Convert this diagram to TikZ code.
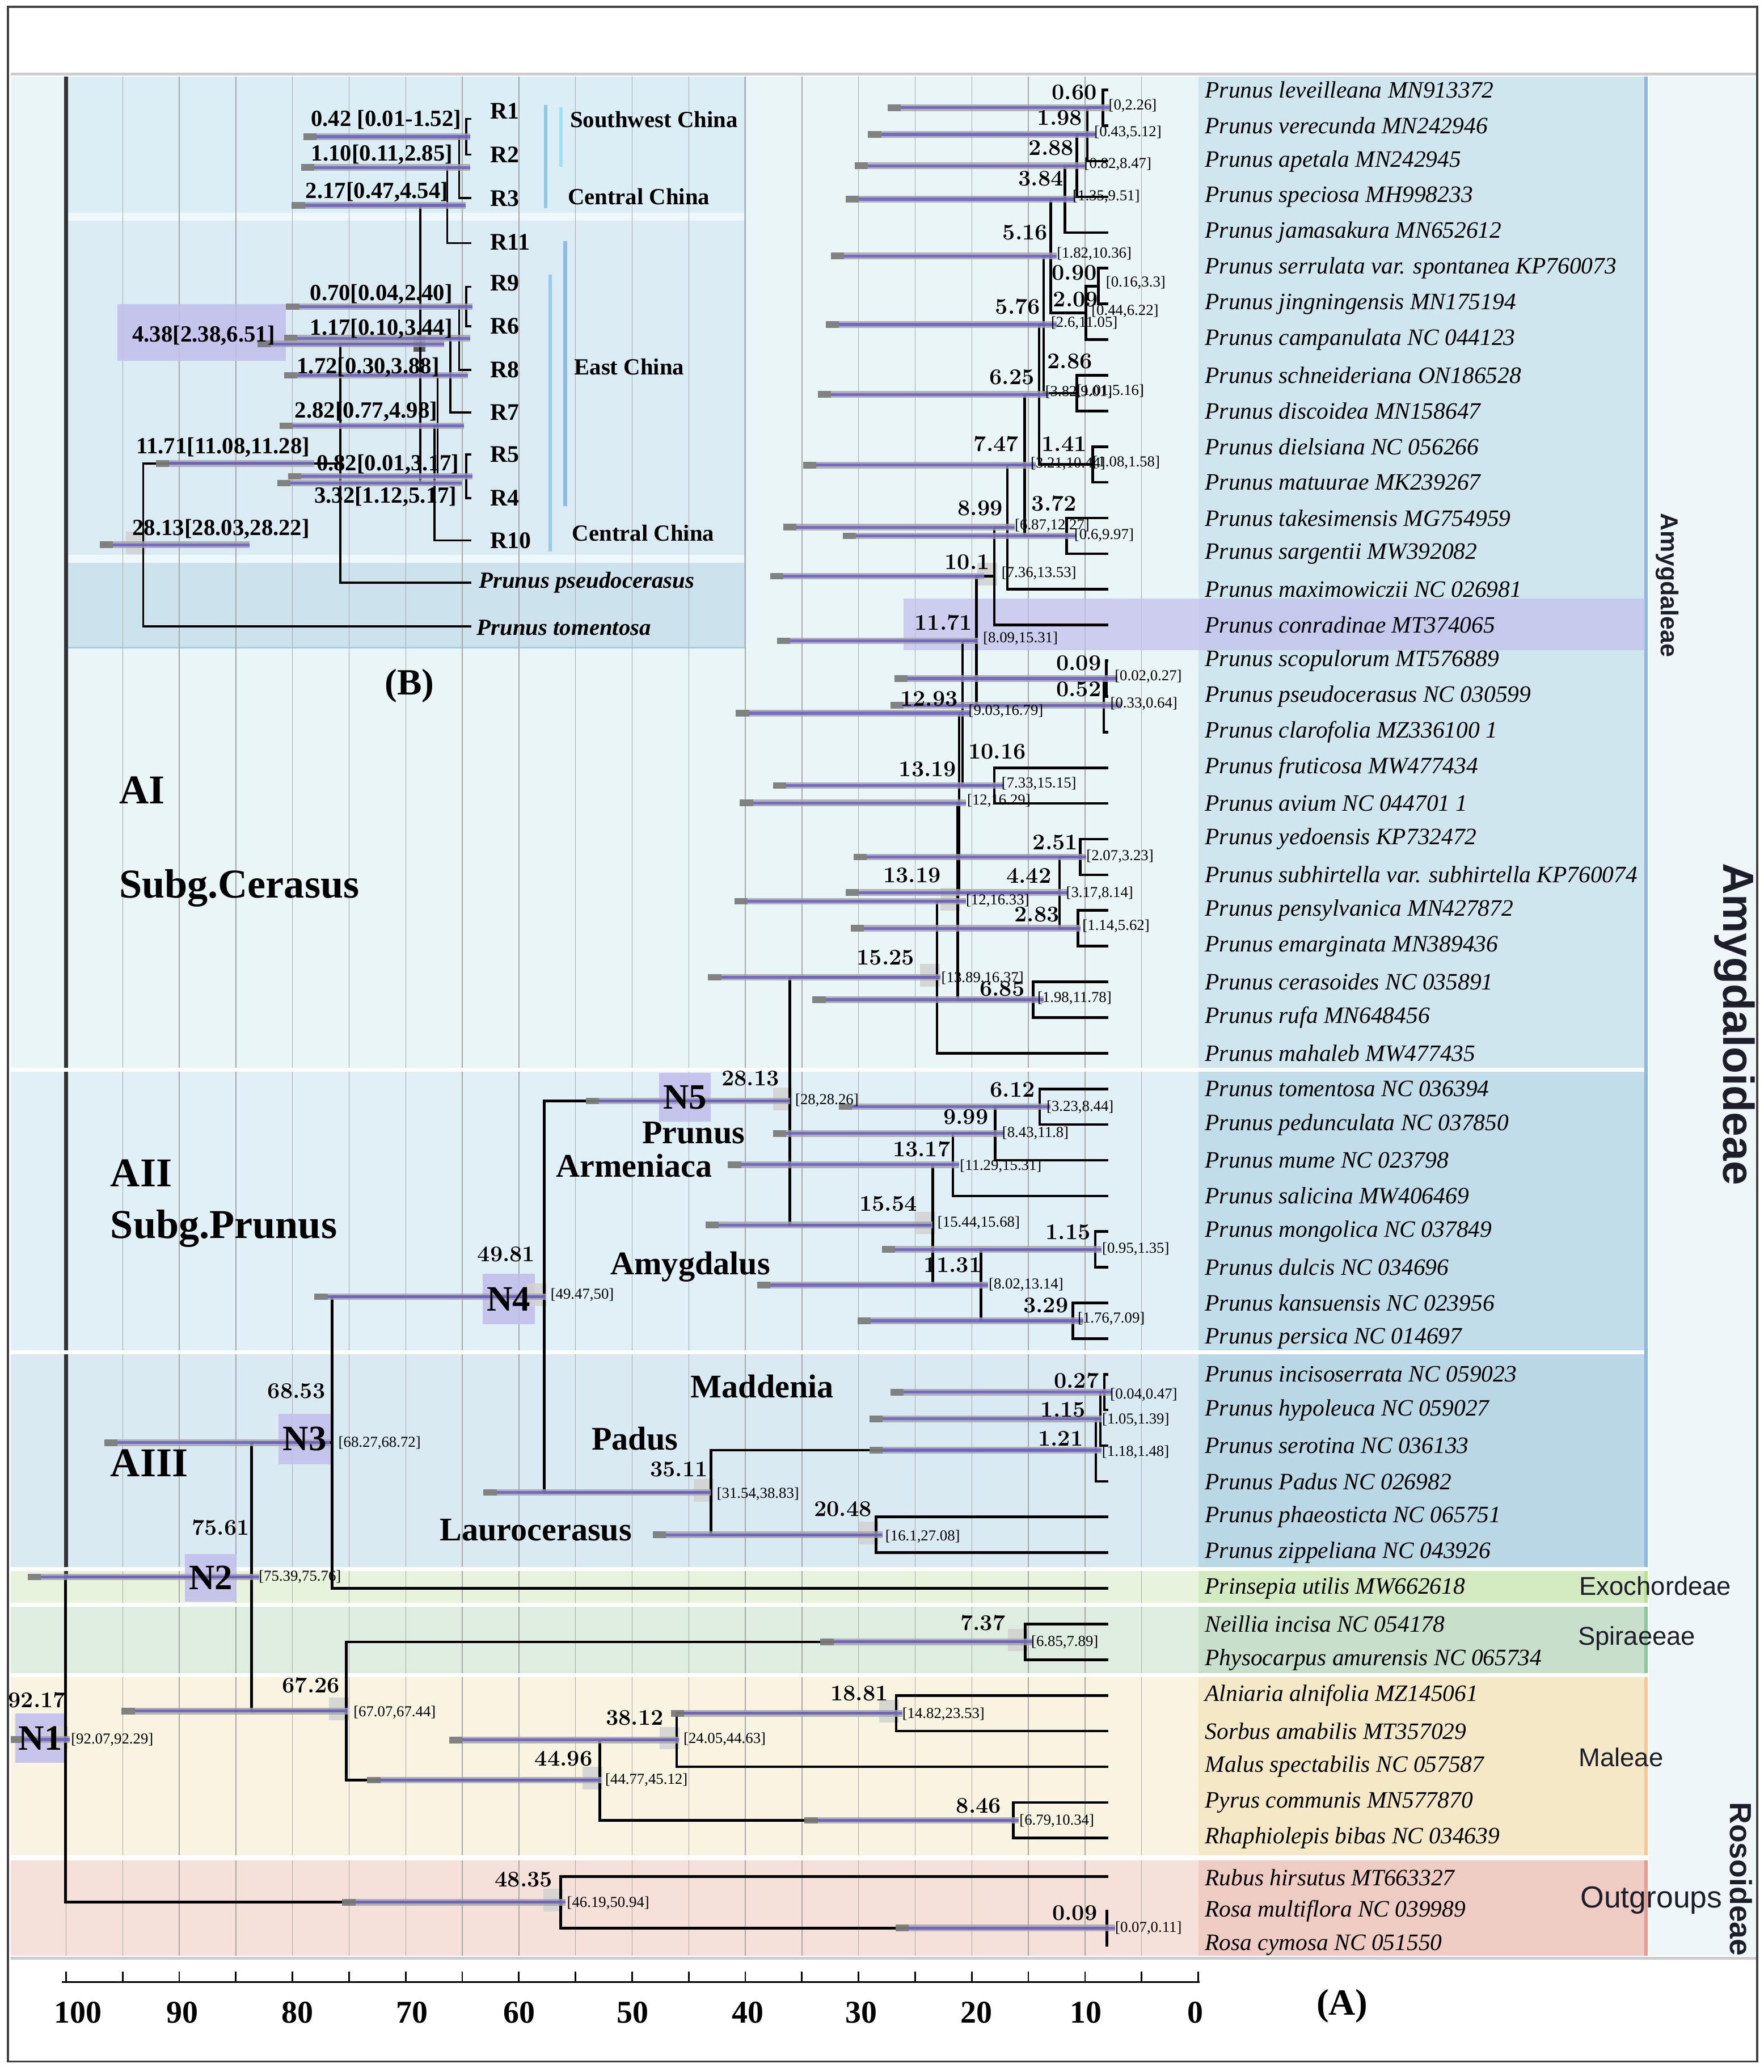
\documentclass[tikz,border=0pt]{standalone}
\usepackage{fontspec}
\newfontfamily\tms{Liberation Serif}
\newfontfamily\ars{Liberation Sans}
\definecolor{bgAI}{HTML}{EAF5F8}
\definecolor{spAI}{HTML}{CFE6EF}
\definecolor{bgAII}{HTML}{E1EFF6}
\definecolor{spAII}{HTML}{C2DDEA}
\definecolor{bgAIII}{HTML}{D9EAF2}
\definecolor{spAIII}{HTML}{BAD7E6}
\definecolor{bgExo}{HTML}{E8F3DE}
\definecolor{spExo}{HTML}{D3E9BF}
\definecolor{bgSpi}{HTML}{DFEDE1}
\definecolor{spSpi}{HTML}{C8E0CB}
\definecolor{bgMal}{HTML}{F9F4E2}
\definecolor{spMal}{HTML}{F4E8C6}
\definecolor{bgOut}{HTML}{F5E0DA}
\definecolor{spOut}{HTML}{EECBC3}
\definecolor{strip}{HTML}{EEF6FA}
\definecolor{insU}{HTML}{DCEEF5}
\definecolor{insM}{HTML}{DAEBF3}
\definecolor{insB}{HTML}{CCE2EC}
\definecolor{insS}{HTML}{EEF7FA}
\definecolor{insE}{HTML}{A9CFE3}
\definecolor{lav}{HTML}{C2C0EC}
\definecolor{hpdg}{HTML}{A3A3A3}
\definecolor{hpdp}{HTML}{6B5FCB}
\definecolor{hpdd}{HTML}{6E6E6E}
\definecolor{gridc}{HTML}{A8A8A8}
\definecolor{txtd}{HTML}{1E1E2A}

\newcommand\BAR[3]{%
  \pgfmathsetmacro\hpdA{#2+10}%
  \draw[line width=5pt,draw=hpdg,opacity=.8] (#2,0 |- #1) -- (#3,0 |- #1);%
  \draw[line width=2.2pt,draw=hpdp,opacity=.85] (\hpdA,0 |- #1) -- (#3,0 |- #1);%
  \draw[line width=5pt,draw=hpdd,opacity=.7] (#2,0 |- #1) -- (\hpdA,0 |- #1);}
\newcommand\GB[1]{\fill[gbox] ([shift={(-13,-10)}]#1) rectangle ([shift={(2,7)}]#1);}
\newcommand\NUM[4]{\node[numlab] (#1) at (#2,#3) {#4};}
\newcommand\IV[4]{\node[ivlab] (#1) at (#2,#3) {#4};}
\newcommand\INL[4]{\node[inlab] (#1) at (#2,#3) {#4};}

\begin{document}
\begin{tikzpicture}[x=1pt,y=-1pt,
  tree/.style={line width=2pt,black},
  itree/.style={line width=1.6pt,black},
  gbox/.style={fill=black!18,opacity=.85},
  nbox/.style={fill=lav,opacity=.9},
  numlab/.style={font=\fontsize{17}{17}\selectfont\bfseries,inner sep=0pt,anchor=east},
  ivlab/.style={font=\tms\fontsize{11.5}{12}\selectfont,inner sep=0pt,anchor=west},
  inlab/.style={font=\tms\bfseries\fontsize{17.5}{18}\selectfont,inner sep=0pt,anchor=east},
  rlab/.style={font=\tms\bfseries\fontsize{18}{18}\selectfont,inner sep=0pt,anchor=west},
  splab/.style={font=\tms\itshape\fontsize{17.8}{18}\selectfont,inner sep=0pt,anchor=west},
  cladelab/.style={font=\tms\bfseries\fontsize{31}{31}\selectfont,inner sep=0pt,anchor=west},
  genlab/.style={font=\tms\bfseries\fontsize{25}{25}\selectfont,inner sep=0pt},
  nlab/.style={font=\tms\bfseries\fontsize{27}{27}\selectfont,inner sep=0pt},
  tribelab/.style={font=\ars\fontsize{19.5}{20}\selectfont,text=txtd,inner sep=0pt},
  axlab/.style={font=\tms\bfseries\fontsize{24}{24}\selectfont,inner sep=0pt}]
\useasboundingbox (0,0) rectangle (1335,1568);
\fill[white] (0,0) rectangle (1335,1568);

% ---------- coordinates: main tree ----------
\foreach \i in {1,...,50} \coordinate (t\i) at (839,{68+27*(\i-1)});
\coordinate (t51) at (839,1420);
\coordinate (t52) at (839,1446);
\coordinate (t53) at (839,1472);
\coordinate (nA) at (835,81.5);
\coordinate (nB) at (823,101.75);
\coordinate (nC) at (815,125.4);
\coordinate (nD) at (806,150.7);
\coordinate (nH) at (831.5,216.5);
\coordinate (nI) at (822,236.75);
\coordinate (nE) at (795.4,193.7);
\coordinate (nJ) at (815,297.5);
\coordinate (nF) at (790,245.6);
\coordinate (nK) at (827,351.5);
\coordinate (nG) at (786.6,298.5);
\coordinate (nL) at (807.4,405.5);
\coordinate (nM) at (775.7,352);
\coordinate (nN) at (762.5,399);
\coordinate (nO) at (752.7,436);
\coordinate (nP) at (837.5,513.5);
\coordinate (nQ) at (835.5,533.75);
\coordinate (nR) at (739,484.9);
\coordinate (nS) at (752.7,594.5);
\coordinate (nT) at (728.6,539.7);
\coordinate (nU1) at (817.6,648.5);
\coordinate (nU2) at (816,702.5);
\coordinate (nV) at (802,675.5);
\coordinate (nW) at (726,607.6);
\coordinate (nX1) at (782,756.5);
\coordinate (nX) at (725,682);
\coordinate (nY) at (709.3,739.5);
\coordinate (m1) at (787,837.5);
\coordinate (m2) at (753.3,857.75);
\coordinate (m3) at (721.3,881.4);
\coordinate (m4) at (829,945.5);
\coordinate (m5) at (812.2,999.5);
\coordinate (m6) at (742.5,972.5);
\coordinate (m7) at (706.2,927);
\coordinate (N5) at (598,833.2);
\coordinate (p1) at (836,1053.5);
\coordinate (p2) at (833,1073.75);
\coordinate (p3) at (829.5,1097.4);
\coordinate (p4) at (663,1161.5);
\coordinate (p5) at (538.3,1129.4);
\coordinate (N4) at (412,981.3);
\coordinate (N3) at (251.3,1091.7);
\coordinate (q1) at (776,1242.5);
\coordinate (q2) at (678.4,1296.5);
\coordinate (q3) at (512.2,1316.75);
\coordinate (q4) at (767,1377.5);
\coordinate (q5) at (454,1347.1);
\coordinate (q6) at (262,1294.8);
\coordinate (N2) at (190.3,1193.3);
\coordinate (o1) at (838,1459);
\coordinate (o2) at (424.5,1439.5);
\coordinate (N1) at (49.7,1316.4);
% ---------- coordinates: inset ----------
\coordinate (iR1) at (357,90);
\coordinate (iR2) at (357,117);
\coordinate (iR3) at (357,150);
\coordinate (iR11) at (357,184);
\coordinate (iR9) at (357,217);
\coordinate (iR6) at (357,247);
\coordinate (iR8) at (357,280);
\coordinate (iR7) at (357,312);
\coordinate (iR5) at (357,344);
\coordinate (iR4) at (357,377);
\coordinate (iR10) at (357,409);
\coordinate (ips) at (357,441);
\coordinate (itm) at (357,474);
\coordinate (b1) at (353,103.5);
\coordinate (b2) at (347.5,126.75);
\coordinate (b3) at (338.5,155.4);
\coordinate (b4) at (353,232);
\coordinate (b5) at (347.5,256);
\coordinate (b6) at (341,284);
\coordinate (b7) at (353,360.5);
\coordinate (b8) at (331.3,322.25);
\coordinate (b9) at (329,365.6);
\coordinate (b10) at (318.2,260.3);
\coordinate (b11) at (257.5,350.65);
\coordinate (b12) at (108.4,412.3);

% ---------- background bands ----------
\fill[bgAI] (8,58) rectangle (907,808);   \fill[spAI] (907,58) rectangle (1245,808);
\fill[bgAII] (8,811) rectangle (907,1022); \fill[spAII] (907,811) rectangle (1245,1022);
\fill[bgAIII] (8,1025) rectangle (907,1186); \fill[spAIII] (907,1025) rectangle (1245,1186);
\fill[bgExo] (8,1189) rectangle (907,1213); \fill[spExo] (907,1189) rectangle (1245,1213);
\fill[bgSpi] (8,1216) rectangle (907,1266); \fill[spSpi] (907,1216) rectangle (1245,1266);
\fill[bgMal] (8,1269) rectangle (907,1404); \fill[spMal] (907,1269) rectangle (1245,1404);
\fill[bgOut] (8,1408) rectangle (907,1480); \fill[spOut] (907,1408) rectangle (1245,1480);
\fill[strip] (1248,58) rectangle (1329,1480);
% inset panel
\fill[insU] (51,58) rectangle (564,161);
\fill[insS] (51,161) rectangle (564,167);
\fill[insM] (51,167) rectangle (564,420);
\fill[insS] (51,420) rectangle (564,426);
\fill[insB] (51,426) rectangle (564,490);
\draw[insE,line width=1.5pt] (564,58) -- (564,490) -- (51,490);
% grid
\foreach \k in {1,...,19} \draw[gridc,line width=0.6pt] ({907-42.85*\k},58) -- ({907-42.85*\k},1480);
\draw[gridc,line width=0.6pt] (50,1193) -- (50,1480);
\draw[black!80,line width=2.8pt] (50,58) -- (50,1193);
% separators
\foreach \ya/\yb in {808/811,1022/1025,1186/1189,1213/1216,1266/1269,1404/1408}
  \fill[white] (8,\ya) rectangle (1246,\yb);
% right coloured edges
\draw[line width=2.5pt,color={rgb,255:red,143;green,182;blue,219}] (1246,58) -- (1246,1186);
\draw[line width=2.5pt,color={rgb,255:red,184;green,226;blue,143}] (1246,1189) -- (1246,1213);
\draw[line width=2.5pt,color={rgb,255:red,140;green,199;blue,155}] (1246,1216) -- (1246,1266);
\draw[line width=2.5pt,color={rgb,255:red,243;green,199;blue,150}] (1246,1269) -- (1246,1404);
\draw[line width=2.5pt,color={rgb,255:red,231;green,156;blue,147}] (1246,1408) -- (1246,1480);
\draw[black!20,line width=2pt] (8,56) -- (1330,56);
\draw[black!20,line width=2pt] (8,1482) -- (1330,1482);

% ---------- highlights ----------
\fill[lav,opacity=.75] (684,453) rectangle (1245,492);
\fill[nbox] (11.4,1296.7) rectangle (49.7,1334.2);
\fill[nbox] (140,1176) rectangle (179,1212);
\fill[nbox] (210.8,1070) rectangle (250.5,1108);
\fill[nbox] (365.5,964) rectangle (404.7,1002.3);
\fill[nbox] (499,812) rectangle (538,849);
\fill[nbox] (89,230) rectangle (216.5,273);
\foreach \g in {nO,nX,nY,N5,m7,N4,p5,p4,N1,q6,q5,q3,q2,q1,o2,b12} \GB{\g}
\fill[black!65,opacity=.8] (313,254) rectangle (322,266);

% ---------- tree edges ----------
\foreach \p/\c in {nA/t1,nA/t2,nB/nA,nB/t3,nC/nB,nC/t4,nD/nC,nD/t5,nH/t6,nH/t7,nI/nH,nI/t8,
  nE/nD,nE/nI,nJ/t9,nJ/t10,nF/nE,nF/nJ,nK/t11,nK/t12,nG/nF,nG/nK,nL/t13,nL/t14,nM/nG,nM/nL,
  nN/nM,nN/t15,nO/nN,nO/t16,nP/t17,nP/t18,nQ/nP,nQ/t19,nR/nO,nR/nQ,nS/t20,nS/t21,nT/nR,nT/nS,
  nU1/t22,nU1/t23,nU2/t24,nU2/t25,nV/nU1,nV/nU2,nW/nT,nW/nV,nX1/t26,nX1/t27,nX/nW,nX/nX1,
  nY/nX,nY/t28,m1/t29,m1/t30,m2/m1,m2/t31,m3/m2,m3/t32,m4/t33,m4/t34,m5/t35,m5/t36,m6/m4,m6/m5,
  m7/m3,m7/m6,N5/nY,N5/m7,p1/t37,p1/t38,p2/p1,p2/t39,p3/p2,p3/t40,p4/t41,p4/t42,p5/p3,p5/p4,
  N4/N5,N4/p5,N3/N4,N3/t43,q1/t44,q1/t45,q2/t46,q2/t47,q3/q2,q3/t48,q4/t49,q4/t50,q5/q3,q5/q4,
  q6/q1,q6/q5,N2/N3,N2/q6,o1/t52,o1/t53,o2/t51,o2/o1,N1/N2,N1/o2}
  \draw[tree] (\p) |- (\c);
\foreach \p/\c in {b1/iR1,b1/iR2,b2/b1,b2/iR3,b3/b2,b3/iR11,b4/iR9,b4/iR6,b5/b4,b5/iR8,b6/b5,b6/iR7,
  b7/iR5,b7/iR4,b8/b6,b8/b7,b9/b8,b9/iR10,b10/b3,b10/b9,b11/b10,b11/ips,b12/b11,b12/itm}
  \draw[itree] (\p) |- (\c);

% ---------- HPD bars ----------
\BAR{nA}{672}{840} \BAR{nB}{657}{829} \BAR{nC}{647}{822} \BAR{nD}{640}{814}
\BAR{nE}{629}{800} \BAR{nF}{625}{800} \BAR{nG}{619}{794} \BAR{nM}{608}{784}
\BAR{nL}{638}{814} \BAR{nN}{593}{768} \BAR{nO}{583}{745} \BAR{nR}{588}{740}
\BAR{nP}{677}{846} \BAR{nQ}{674}{849} \BAR{nT}{557}{734} \BAR{nS}{585}{760}
\BAR{nW}{560}{731} \BAR{nU1}{646}{822} \BAR{nV}{640}{808} \BAR{nU2}{644}{818}
\BAR{nX}{556}{731} \BAR{nY}{536}{712} \BAR{nX1}{615}{790}
\BAR{N5}{443.5}{598} \BAR{m1}{635}{795} \BAR{m2}{585}{760} \BAR{m3}{551}{726}
\BAR{m7}{534}{706} \BAR{m4}{667.5}{834} \BAR{m6}{573}{748} \BAR{m5}{649}{820}
\BAR{p1}{674}{842} \BAR{p2}{658}{834} \BAR{p3}{658}{834} \BAR{p5}{366}{538}
\BAR{p4}{494}{668} \BAR{N4}{238}{413} \BAR{N3}{79}{250} \BAR{N2}{21}{196}
\BAR{q6}{92}{263} \BAR{q1}{621}{782} \BAR{q2}{508}{683} \BAR{q3}{340}{514}
\BAR{q4}{609}{771} \BAR{q5}{278}{455} \BAR{o2}{259}{428} \BAR{o1}{678}{844}
\BAR{N1}{8}{53}
\BAR{b1}{229.7}{355.9} \BAR{b2}{228}{356} \BAR{b3}{220.8}{352.6} \BAR{b4}{216.5}{357.5}
\BAR{b5}{215}{356} \BAR{b6}{215}{354} \BAR{b8}{211.6}{351} \BAR{b7}{218}{357.5}
\BAR{b9}{210}{349.3} \BAR{b10}{195}{336} \BAR{b11}{118}{238} \BAR{b12}{75.6}{188.7}

% ---------- inset blue lines ----------
\draw[line width=2.5pt,color={rgb,255:red,140;green,200;blue,234}] (413.2,79.6) -- (413.2,157.6);
\draw[line width=2.5pt,color={rgb,255:red,158;green,224;blue,244}] (424.7,81) -- (424.7,126.3);
\draw[line width=3pt,color={rgb,255:red,141;green,189;blue,227}] (428,182.4) -- (428,383);
\draw[line width=2.5pt,color={rgb,255:red,154;green,202;blue,235}] (416.5,208) -- (416.5,417.3);

% ---------- node ages and intervals ----------
\NUM{lA}{830.4}{70}{0.60}     \IV{iA}{839}{80}{[0,2.26]}
\NUM{lB}{819.5}{89.2}{1.98}   \IV{iB}{828.2}{100}{[0.43,5.12]}
\NUM{lC}{813}{111.8}{2.88}    \IV{iC}{820.6}{124.4}{[0.82,8.47]}
\NUM{lD}{805.2}{135.3}{3.84}  \IV{iD}{811.8}{148.8}{[1.35,9.51]}
\NUM{lE}{793.2}{175.9}{5.16}  \IV{iE}{799.8}{192.2}{[1.82,10.36]}
\NUM{lH}{830.4}{206.6}{0.90}  \IV{iH}{837}{213.8}{[0.16,3.3]}
\NUM{lI}{831.5}{226.5}{2.09}  \IV{iI}{826}{235.5}{[0.44,6.22]}
\NUM{lF}{787.7}{231.9}{5.76}  \IV{iF}{795.4}{244.5}{[2.6,11.05]}
\NUM{lJ}{827.1}{273.4}{2.86}  \IV{iJ}{815}{296}{[1.01,5.16]}
\NUM{lG}{783.3}{285.2}{6.25}  \IV{iG}{791}{296.9}{[3.82,9.01]}
\NUM{lM}{771.3}{336.1}{7.47}  \IV{iM}{780}{351}{[3.21,10.44]}
\NUM{lK}{822.8}{336.1}{1.41}  \IV{iK}{827}{350}{[1.08,1.58]}
\NUM{lN}{759.2}{384.5}{8.99}  \IV{iN}{768}{397.5}{[6.87,12.27]}
\NUM{lL}{815.1}{380.8}{3.72}  \IV{iL}{813}{405}{[0.6,9.97]}
\NUM{lO}{749.4}{425.5}{10.1}  \IV{iO}{758}{433.8}{[7.36,13.53]}
\NUM{lR}{736.2}{471.1}{11.71} \IV{iR}{744}{483.2}{[8.09,15.31]}
\NUM{lP}{833.7}{501.8}{0.09}  \IV{iP}{843.6}{512}{[0.02,0.27]}
\NUM{lQ}{833.7}{521.4}{0.52}  \IV{iQ}{840.3}{532.5}{[0.33,0.64]}
\NUM{lT}{725.3}{528.8}{12.93} \IV{iT}{733}{538.1}{[9.03,16.79]}
\NUM{lS}{776.8}{568.8}{10.16} \IV{iS}{758}{593}{[7.33,15.15]}
\NUM{lW}{724.2}{581.9}{13.19} \IV{iW}{731.9}{606.1}{[12,16.29]}
\NUM{lU1}{816}{637.3}{2.51}   \IV{iU1}{822.2}{648}{[2.07,3.23]}
\NUM{lV}{796}{662.9}{4.42}    \IV{iV}{806.8}{675.7}{[3.17,8.14]}
\NUM{lX}{712.4}{662.2}{13.19} \IV{iX}{731}{681.4}{[12,16.33]}
\NUM{lU2}{802.1}{692.1}{2.83} \IV{iU2}{819.2}{700.6}{[1.14,5.62]}
\NUM{lY}{692.3}{724.8}{15.25} \IV{iY}{712.4}{740.5}{[13.89,16.37]}
\NUM{lX1}{775.8}{748.3}{6.85} \IV{iX1}{785.1}{755.5}{[1.98,11.78]}
\NUM{l5}{590}{816}{28.13}     \IV{i5}{601.8}{832.6}{[28,28.26]}
\NUM{lm1}{783.6}{824.8}{6.12} \IV{im1}{792}{837.6}{[3.23,8.44]}
\NUM{lm2}{748.3}{845.4}{9.99} \IV{im2}{758.4}{857.6}{[8.43,11.8]}
\NUM{lm3}{719.6}{869.7}{13.17} \IV{im3}{726.4}{882.5}{[11.29,15.31]}
\NUM{lm7}{694.4}{911}{15.54}  \IV{im7}{709.5}{925.2}{[15.44,15.68]}
\NUM{lm4}{825.7}{932.3}{1.15} \IV{im4}{834.1}{945.1}{[0.95,1.35]}
\NUM{lm6}{743.2}{957.2}{11.31} \IV{im6}{748.2}{972.2}{[8.02,13.14]}
\NUM{lm5}{808.9}{987.8}{3.29} \IV{im5}{815.6}{997.8}{[1.76,7.09]}
\NUM{l4}{405.2}{949.3}{49.81} \IV{i4}{416.6}{980}{[49.47,50]}
\NUM{lp1}{832}{1044.7}{0.27}  \IV{ip1}{840.2}{1055.3}{[0.04,0.47]}
\NUM{lp2}{822}{1066.7}{1.15}  \IV{ip2}{834.1}{1074.5}{[1.05,1.39]}
\NUM{lp3}{820}{1088.7}{1.21}  \IV{ip3}{834}{1098.7}{[1.18,1.48]}
\NUM{lp5}{536}{1112}{35.11}   \IV{ip5}{542.4}{1130.7}{[31.54,38.83]}
\NUM{lp4}{660}{1142}{20.48}   \IV{ip4}{670}{1162.6}{[16.1,27.08]}
\NUM{l3}{246.4}{1052.8}{68.53} \IV{i3}{256}{1092}{[68.27,68.72]}
\NUM{l2}{189}{1156}{75.61}    \IV{i2}{195.7}{1193.4}{[75.39,75.76]}
\NUM{lq6}{257.4}{1275.5}{67.26} \IV{iq6}{267.4}{1295.7}{[67.07,67.44]}
\NUM{lq1}{761.2}{1227.9}{7.37} \IV{iq1}{780.4}{1242.5}{[6.85,7.89]}
\NUM{lq2}{672.5}{1281.6}{18.81} \IV{iq2}{682.8}{1297}{[14.82,23.53]}
\NUM{lq3}{502.4}{1299.8}{38.12} \IV{iq3}{517.2}{1316}{[24.05,44.63]}
\NUM{lq5}{448.6}{1331}{44.96} \IV{iq5}{458}{1347}{[44.77,45.12]}
\NUM{lq4}{758}{1366.6}{8.46}  \IV{iq4}{771.5}{1378}{[6.79,10.34]}
\NUM{lo2}{418.5}{1422.4}{48.35} \IV{io2}{429}{1440}{[46.19,50.94]}
\NUM{lo1}{830.7}{1447.7}{0.09} \IV{io1}{844}{1459}{[0.07,0.11]}
\NUM{l1}{50}{1286.6}{92.17}   \IV{i1}{53.6}{1316.4}{[92.07,92.29]}

% N boxes text
\node[nlab] (tN1) at (30.5,1315.5) {N1};
\node[nlab] (tN2) at (159.5,1194) {N2};
\node[nlab] (tN3) at (230.6,1089) {N3};
\node[nlab] (tN4) at (385,983) {N4};
\node[nlab] (tN5) at (518.5,830.5) {N5};

% ---------- inset labels ----------
\INL{ib1}{349.3}{90.6}{0.42 [0.01-1.52]}
\INL{ib2}{342.8}{116.8}{1.10[0.11,2.85]}
\INL{ib3}{339.5}{145.3}{2.17[0.47,4.54]}
\INL{ib4}{342.8}{222.5}{0.70[0.04,2.40]}
\INL{ib5}{342.8}{248.8}{1.17[0.10,3.44]}
\INL{ib6}{332.9}{277.8}{1.72[0.30,3.88]}
\INL{ib8}{331.3}{311.6}{2.82[0.77,4.98]}
\INL{ib7}{347.7}{351.4}{0.82[0.01,3.17]}
\INL{ib9}{346}{376}{3.32[1.12,5.17]}
\INL{ib10}{208.3}{253.9}{4.38[2.38,6.51]}
\INL{ib11}{234.6}{338.4}{11.71[11.08,11.28]}
\INL{ib12}{234.6}{400.5}{28.13[28.03,28.22]}
\foreach \r/\yy in {R1/84,R2/117,R3/150,R11/183,R9/214,R6/247,R8/280,R7/312,R5/344,R4/377,R10/409}
  \node[rlab] (lab\r) at (371,\yy) {\r};
\node[rlab,font=\tms\bfseries\fontsize{17.5}{18}\selectfont] (sw) at (431.3,90.6) {Southwest China};
\node[rlab,font=\tms\bfseries\fontsize{17.5}{18}\selectfont] (cc1) at (429.6,148.9) {Central China};
\node[rlab,font=\tms\bfseries\fontsize{17.5}{18}\selectfont] (ec) at (434.5,277.8) {East China};
\node[rlab,font=\tms\bfseries\fontsize{17.5}{18}\selectfont] (cc2) at (433,403.5) {Central China};
\node[rlab,font=\tms\bfseries\itshape\fontsize{17.5}{18}\selectfont] (ps) at (362.4,441) {Prunus pseudocerasus};
\node[rlab,font=\tms\bfseries\itshape\fontsize{17.5}{18}\selectfont] (pt) at (360.8,475) {Prunus tomentosa};
\node[font=\tms\bfseries\fontsize{28}{28}\selectfont,inner sep=0pt] (Blab) at (310,519) {(B)};

% ---------- clade labels ----------
\node[cladelab] (cAI) at (90,598) {AI};
\node[cladelab] (cAIs) at (90,672) {Subg.Cerasus};
\node[cladelab] (cAII) at (83.5,887.7) {AII};
\node[cladelab] (cAIIs) at (83.5,929.6) {Subg.Prunus};
\node[cladelab] (cAIII) at (83.5,1107) {AIII};
\node[genlab] (gPr) at (525,857.5) {Prunus};
\node[genlab] (gAr) at (480,882) {Armeniaca};
\node[genlab] (gAm) at (522.6,958.7) {Amygdalus};
\node[genlab] (gMa) at (577,1049) {Maddenia};
\node[genlab] (gPa) at (480.5,1088.7) {Padus};
\node[genlab] (gLa) at (405.6,1157.7) {Laurocerasus};

% ---------- species ----------
\foreach \i/\txt in {1/Prunus leveilleana MN913372,2/Prunus verecunda MN242946,3/Prunus apetala MN242945,
 4/Prunus speciosa MH998233,5/Prunus jamasakura MN652612,6/Prunus serrulata var. spontanea KP760073,
 7/Prunus jingningensis MN175194,8/Prunus campanulata NC 044123,9/Prunus schneideriana ON186528,
 10/Prunus discoidea MN158647,11/Prunus dielsiana NC 056266,12/Prunus matuurae MK239267,
 13/Prunus takesimensis MG754959,14/Prunus sargentii MW392082,15/Prunus maximowiczii NC 026981,
 16/Prunus conradinae MT374065,17/Prunus scopulorum MT576889,18/Prunus pseudocerasus NC 030599,
 19/Prunus clarofolia MZ336100 1,20/Prunus fruticosa MW477434,21/Prunus avium NC 044701 1,
 22/Prunus yedoensis KP732472,23/Prunus subhirtella var. subhirtella KP760074,24/Prunus pensylvanica MN427872,
 25/Prunus emarginata MN389436,26/Prunus cerasoides NC 035891,27/Prunus rufa MN648456,
 28/Prunus mahaleb MW477435,29/Prunus tomentosa NC 036394,30/Prunus pedunculata NC 037850,
 31/Prunus mume NC 023798,32/Prunus salicina MW406469,33/Prunus mongolica NC 037849,
 34/Prunus dulcis NC 034696,35/Prunus kansuensis NC 023956,36/Prunus persica NC 014697,
 37/Prunus incisoserrata NC 059023,38/Prunus hypoleuca NC 059027,39/Prunus serotina NC 036133,
 40/Prunus Padus NC 026982,41/Prunus phaeosticta NC 065751,42/Prunus zippeliana NC 043926,
 43/Prinsepia utilis MW662618,44/Neillia incisa NC 054178,45/Physocarpus amurensis NC 065734,
 46/Alniaria alnifolia MZ145061,47/Sorbus amabilis MT357029,48/Malus spectabilis NC 057587,
 49/Pyrus communis MN577870,50/Rhaphiolepis bibas NC 034639}
  \node[splab] (s\i) at (912,{68+27*(\i-1)}) {\txt};
\node[splab] (s51) at (912,1421) {Rubus hirsutus MT663327};
\node[splab] (s52) at (912,1446) {Rosa multiflora NC 039989};
\node[splab] (s53) at (912,1472) {Rosa cymosa NC 051550};

% ---------- tribe / subfamily labels ----------
\node[tribelab,font=\ars\bfseries\fontsize{18.5}{19}\selectfont,rotate=-90] (amy) at (1262,443) {Amygdaleae};
\node[tribelab,font=\ars\bfseries\fontsize{33}{33}\selectfont,rotate=-90] (amyd) at (1313,775) {Amygdaloideae};
\node[tribelab] (exo) at (1253,1200) {Exochordeae};
\node[tribelab] (spi) at (1239,1240) {Spiraeeae};
\node[tribelab] (mal) at (1227,1330) {Maleae};
\node[tribelab,font=\ars\fontsize{23}{23}\selectfont] (outg) at (1250,1438) {Outgroups};
\node[tribelab,font=\ars\bfseries\fontsize{23}{23}\selectfont,rotate=-90] (ros) at (1318,1422) {Rosoideae};

% ---------- axis ----------
\draw[line width=1.5pt] (47,1500) -- (908,1500);
\foreach \k in {0,...,20} \draw[line width=1.2pt] ({907-42.85*\k},1500) -- ({907-42.85*\k},1492);
\foreach \v/\xx in {100/59,90/138,80/225,70/312,60/393,50/479,40/566,30/652,20/739,10/822,0/905}
  \node[axlab] (ax\v) at (\xx,1523) {\v};
\node[font=\tms\bfseries\fontsize{28}{28}\selectfont,inner sep=0pt] (Alab) at (1016,1518) {(A)};

% frame
\draw[line width=1.6pt,black!75] (6,5) rectangle (1330,1560);
\end{tikzpicture}
\end{document}
